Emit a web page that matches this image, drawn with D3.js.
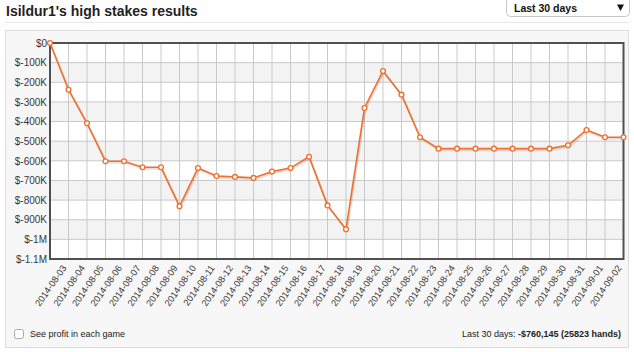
<!DOCTYPE html>
<html>
<head>
<meta charset="utf-8">
<script src="https://cdn.jsdelivr.net/npm/d3@7"></script>
<style>
  html, body { margin: 0; padding: 0; background: #fff; }
  svg { display: block; }
</style>
</head>
<body>
<script>
// first point is the starting bankroll (no label), then one point per day
const dates = ['start',
  '2014-08-03', '2014-08-04', '2014-08-05', '2014-08-06', '2014-08-07', '2014-08-08',
  '2014-08-09', '2014-08-10', '2014-08-11', '2014-08-12', '2014-08-13', '2014-08-14',
  '2014-08-15', '2014-08-16', '2014-08-17', '2014-08-18', '2014-08-19', '2014-08-20',
  '2014-08-21', '2014-08-22', '2014-08-23', '2014-08-24', '2014-08-25', '2014-08-26',
  '2014-08-27', '2014-08-28', '2014-08-29', '2014-08-30', '2014-08-31', '2014-09-01',
  '2014-09-02'];
const profit = [0,
  -238000, -409000, -602000, -602000, -633000, -633000,
  -832000, -637000, -677000, -682000, -687000, -655000,
  -637000, -579000, -827000, -949000, -331000, -143000,
  -263000, -480000, -538000, -538000, -538000, -538000,
  -538000, -538000, -538000, -521000, -443000, -480000,
  -480000];
const yTicks = [0, -100000, -200000, -300000, -400000, -500000, -600000,
  -700000, -800000, -900000, -1000000, -1100000];
const yTickLabels = ['$0', '$-100K', '$-200K', '$-300K', '$-400K', '$-500K', '$-600K',
  '$-700K', '$-800K', '$-900K', '$-1M', '$-1.1M'];

const width = 634;
const height = 352;
const plot = { left: 50, right: 623.5, top: 43, bottom: 259 };
const lineColor = '#f26f2c';

const data = dates.map((d, i) => ({date: d, value: profit[i]}));

const xScale = d3.scalePoint(dates, [plot.left, plot.right]);
const yScale = d3.scaleLinear([-1100000, 0], [plot.bottom, plot.top]);

const svg = d3.select('body').append('svg')
  .attr('width', width)
  .attr('height', height)
  .style('font-family', '"DejaVu Sans", Verdana, sans-serif');

// title + separator
svg.append('text')
  .attr('x', 6)
  .attr('y', 16)
  .attr('fill', '#222')
  .style('font-family', '"Liberation Sans", Arial, sans-serif')
  .style('font-weight', 'bold')
  .style('font-size', '14px')
  .text("Isildur1's high stakes results");

svg.append('line')
  .attr('x1', 5).attr('x2', 629)
  .attr('y1', 22.5).attr('y2', 22.5)
  .attr('stroke', '#e6e6e6');

// range drop down
const dd = svg.append('g').style('font-family', '"Liberation Sans", Arial, sans-serif');
dd.append('rect')
  .attr('x', 506.5).attr('y', -4.5)
  .attr('width', 123).attr('height', 21)
  .attr('rx', 4)
  .attr('fill', '#fff')
  .attr('stroke', '#c8c8c8');
dd.append('text')
  .attr('x', 514).attr('y', 11.5)
  .attr('fill', '#111')
  .style('font-weight', 'bold')
  .style('font-size', '10.5px')
  .text('Last 30 days');
dd.append('path')
  .attr('d', 'M617,4.5 L624,4.5 L620.5,11 Z')
  .attr('fill', '#111');

// panel
svg.append('rect')
  .attr('x', 5.5).attr('y', 30.5)
  .attr('width', 623).attr('height', 317)
  .attr('fill', '#f7f7f7')
  .attr('stroke', '#dcdcdc');

// plot background with alternating bands
svg.append('rect')
  .attr('x', plot.left).attr('y', plot.top)
  .attr('width', plot.right - plot.left)
  .attr('height', plot.bottom - plot.top)
  .attr('fill', '#fff');

svg.append('g')
  .selectAll('rect')
  .data(yTicks.slice(0, -1).filter((d, i) => i % 2 == 1))
  .join('rect')
  .attr('x', plot.left)
  .attr('width', plot.right - plot.left)
  .attr('y', d => yScale(d))
  .attr('height', d => yScale(d - 100000) - yScale(d))
  .attr('fill', '#f3f3f3');

// grid lines
svg.append('g')
  .selectAll('line')
  .data(dates)
  .join('line')
  .attr('x1', d => xScale(d)).attr('x2', d => xScale(d))
  .attr('y1', plot.top).attr('y2', plot.bottom)
  .attr('stroke', '#c9c9c9');

svg.append('g')
  .selectAll('line')
  .data(yTicks)
  .join('line')
  .attr('x1', plot.left).attr('x2', plot.right)
  .attr('y1', d => yScale(d)).attr('y2', d => yScale(d))
  .attr('stroke', '#c9c9c9');

// y-axis
const gy = svg.append('g')
  .attr('transform', `translate(${plot.left - 3}, 0)`)
  .call(d3.axisLeft(yScale)
    .tickValues(yTicks)
    .tickFormat((d, i) => yTickLabels[i])
    .tickSize(0)
    .tickPadding(0));
gy.select('.domain').remove();
gy.selectAll('text')
  .attr('fill', '#383838')
  .style('font-size', '10px');

// x-axis, rotated labels
const gx = svg.append('g')
  .attr('transform', `translate(0, ${plot.bottom})`)
  .call(d3.axisBottom(xScale)
    .tickValues(dates.slice(1))
    .tickSize(0));
gx.select('.domain').remove();
gx.selectAll('text')
  .attr('fill', '#383838')
  .style('font-size', '9.3px')
  .attr('text-anchor', 'end')
  .attr('dy', null)
  .attr('y', null)
  .attr('transform', 'translate(-2, 9) rotate(-55)');

// frame
svg.append('rect')
  .attr('x', plot.left).attr('y', plot.top)
  .attr('width', plot.right - plot.left)
  .attr('height', plot.bottom - plot.top)
  .attr('fill', 'none')
  .attr('stroke', '#505050')
  .attr('stroke-width', 2);

// line with a soft shadow
const line = d3.line()
  .x(d => xScale(d.date))
  .y(d => yScale(d.value));

svg.append('path')
  .datum(data)
  .attr('d', line)
  .attr('transform', 'translate(1, 1.5)')
  .attr('fill', 'none')
  .attr('stroke', '#000')
  .attr('stroke-opacity', 0.12)
  .attr('stroke-width', 2);

svg.append('path')
  .datum(data)
  .attr('d', line)
  .attr('fill', 'none')
  .attr('stroke', lineColor)
  .attr('stroke-width', 1.6);

svg.append('g')
  .selectAll('circle')
  .data(data)
  .join('circle')
  .attr('cx', d => xScale(d.date))
  .attr('cy', d => yScale(d.value))
  .attr('r', 2.4)
  .attr('fill', '#fff')
  .attr('stroke', lineColor)
  .attr('stroke-width', 1.3);

// footer
const foot = svg.append('g').style('font-family', '"Liberation Sans", Arial, sans-serif');
foot.append('rect')
  .attr('x', 14.5).attr('y', 329.5)
  .attr('width', 9).attr('height', 9)
  .attr('rx', 2)
  .attr('fill', '#fff')
  .attr('stroke', '#a8a8a8');
foot.append('text')
  .attr('x', 30).attr('y', 337)
  .attr('fill', '#222')
  .style('font-size', '9px')
  .text('See profit in each game');

const summary = foot.append('text')
  .attr('x', 621).attr('y', 337)
  .attr('text-anchor', 'end')
  .attr('fill', '#222')
  .style('font-size', '9px');
summary.append('tspan').text('Last 30 days: ');
summary.append('tspan').style('font-weight', 'bold').text('-$760,145 (25823 hands)');
</script>
</body>
</html>
